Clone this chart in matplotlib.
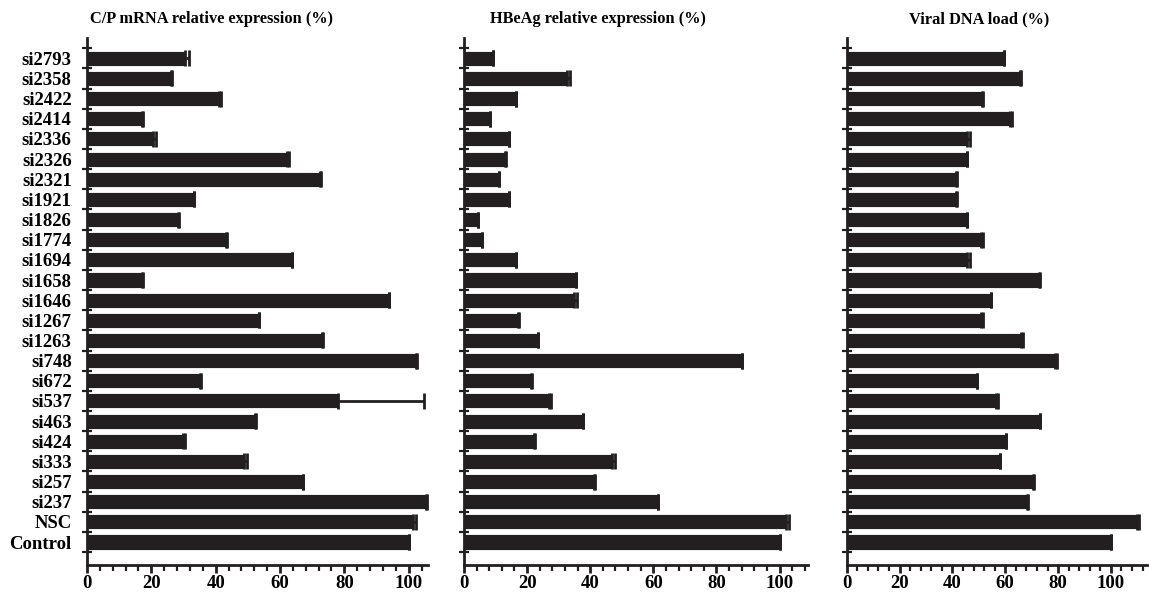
import numpy as np
import matplotlib
matplotlib.use("Agg")
import matplotlib.pyplot as plt
from matplotlib.ticker import MultipleLocator, FixedLocator

plt.rcParams['font.family'] = ['Liberation Serif', 'DejaVu Serif']
plt.rcParams['font.weight'] = 'bold'

# categories, top to bottom
labels = ['si2793', 'si2358', 'si2422', 'si2414', 'si2336', 'si2326', 'si2321',
          'si1921', 'si1826', 'si1774', 'si1694', 'si1658', 'si1646', 'si1267',
          'si1263', 'si748', 'si672', 'si537', 'si463', 'si424', 'si333',
          'si257', 'si237', 'NSC', 'Control']

mrna = [30.6, 26.2, 41.0, 17.1, 20.6, 62.3, 72.5, 33.2, 28.3, 43.3, 63.6, 17.1, 93.8,
        53.4, 73.2, 102.4, 35.2, 77.9, 52.3, 29.8, 48.9, 67.0, 105.3, 101.2, 100.0]
mrna_err = [1.1, 0.3, 0.6, 0.3, 0.9, 0.6, 0.3, 0.2, 0.2, 0.2, 0.2, 0.2, 0.2,
            0.2, 0.3, 0.3, 0.2, 26.8, 0.2, 0.7, 0.8, 0.2, 0.3, 1.0, 0.0]

hbeag = [9.2, 32.8, 16.4, 8.3, 14.3, 13.0, 11.1, 14.3, 4.4, 5.6, 16.4, 35.4, 34.9,
         17.2, 23.4, 88.0, 21.3, 26.8, 37.6, 22.3, 46.9, 41.3, 61.4, 102.1, 100.0]
hbeag_err = [0.1, 0.8, 0.2, 0.1, 0.1, 0.2, 0.0, 0.1, 0.0, 0.0, 0.2, 0.2, 0.9,
             0.2, 0.2, 0.2, 0.2, 0.9, 0.2, 0.1, 0.9, 0.2, 0.2, 1.0, 0.0]

dna = [59.5, 65.6, 51.2, 61.8, 45.6, 45.4, 41.4, 41.4, 45.4, 50.7, 45.6, 72.8, 54.5,
       50.8, 65.8, 78.7, 49.2, 56.5, 73.1, 60.3, 58.1, 70.4, 68.1, 109.7, 100.0]
dna_err = [0.2, 0.2, 0.2, 0.9, 0.9, 0.2, 0.3, 0.3, 0.2, 1.0, 0.9, 0.2, 0.2,
           0.9, 0.8, 1.0, 0.2, 0.9, 0.2, 0.1, 0.1, 0.5, 0.5, 1.0, 0.0]

titles = ['C/P mRNA relative expression (%)', 'HBeAg relative expression (%)',
          'Viral DNA load (%)']

bar_color = '#231f20'
fig = plt.figure(figsize=(11.49, 5.98), dpi=100)

# [left, bottom, width, height], xmax, title x (axes fraction)
panels = [
    ([0.0757, 0.0552, 0.2968, 0.881], 106, 0.365, mrna, mrna_err),
    ([0.4038, 0.0552, 0.2994, 0.881], 109, 0.39, hbeag, hbeag_err),
    ([0.7369, 0.0552, 0.2610, 0.881], 113.5, 0.44, dna, dna_err),
]

y = np.arange(len(labels))[::-1]

for i, (rect, xmax, tx, vals, errs) in enumerate(panels):
    ax = fig.add_axes(rect)
    errs = np.array(errs)
    ax.barh(y, vals, height=0.75, color=bar_color, edgecolor='white', linewidth=0.6,
            xerr=[np.zeros_like(errs), errs], capsize=6,
            error_kw=dict(ecolor=bar_color, elinewidth=2, capthick=2))
    ax.set_xlim(0, xmax)
    ax.set_ylim(-1.14, 25.0)

    for s in ['top', 'right']:
        ax.spines[s].set_visible(False)
    ax.spines['left'].set_linewidth(2)
    ax.spines['bottom'].set_linewidth(2)
    ax.spines['left'].set_color(bar_color)
    ax.spines['bottom'].set_color(bar_color)

    ax.xaxis.set_major_locator(MultipleLocator(20))
    ax.xaxis.set_minor_locator(MultipleLocator(4))
    ax.tick_params(axis='x', which='major', direction='out', length=6, width=2,
                   labelsize=13.5, pad=1.5, color=bar_color)
    ax.tick_params(axis='x', which='minor', direction='out', length=4, width=1.6,
                   color=bar_color)
    ax.set_xticks([0, 20, 40, 60, 80, 100])

    ax.set_yticks(y)
    ax.yaxis.set_minor_locator(FixedLocator(np.arange(-0.5, 25, 1.0)))
    ax.tick_params(axis='y', which='minor', direction='inout', length=7, width=1.6,
                   color=bar_color)
    if i == 0:
        ax.set_yticklabels(labels)
        ax.tick_params(axis='y', which='major', length=0, pad=11, labelsize=13.5)
    else:
        ax.set_yticklabels([])
        ax.tick_params(axis='y', which='major', length=0)

    for lab in ax.get_xticklabels() + ax.get_yticklabels():
        lab.set_fontweight('bold')

    ax.text(tx, 1.021, titles[i], transform=ax.transAxes, ha='center',
            va='bottom', fontsize=11.8, fontweight='bold')

fig.savefig('out.png', dpi=100)
